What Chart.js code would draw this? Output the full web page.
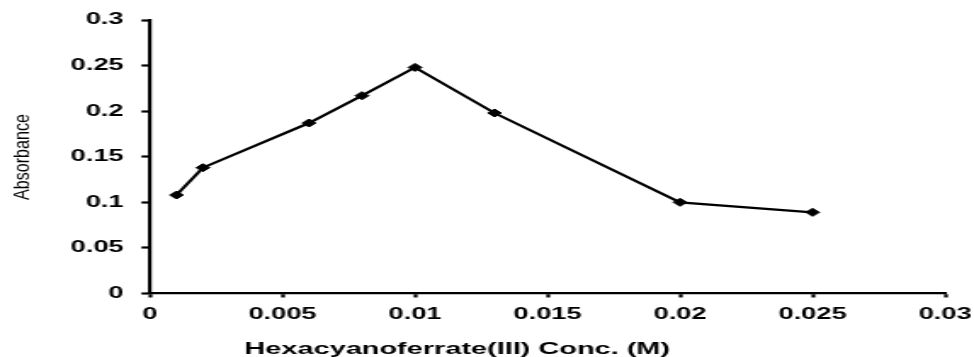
<!DOCTYPE html>
<html>
<head>
<meta charset="utf-8">
<script src="https://cdn.jsdelivr.net/npm/chart.js@4"></script>
<style>
  html, body { margin: 0; padding: 0; background: #fff; overflow: hidden; }
  #c { display: block; width: 974px !important; height: 357px !important; }
</style>
</head>
<body>
<canvas id="c" width="573" height="357"></canvas>
<script>
// ---- data ----
const concentrations = [0.001, 0.002, 0.006, 0.008, 0.010, 0.013, 0.020, 0.025];
const absorbance     = [0.108, 0.138, 0.187, 0.217, 0.248, 0.198, 0.100, 0.089];
const xTickValues = [0, 0.005, 0.01, 0.015, 0.02, 0.025, 0.03];
const xTickLabels = ['0', '0.005', '0.01', '0.015', '0.02', '0.025', '0.03'];
const yTickValues = [0, 0.05, 0.1, 0.15, 0.2, 0.25, 0.3];
const yTickLabels = ['0', '0.05', '0.1', '0.15', '0.2', '0.25', '0.3'];
const xTitle = 'Hexacyanoferrate(III) Conc. (M)';
const yTitle = 'Absorbance';

const points = concentrations.map((x, i) => ({ x: x, y: absorbance[i] }));

const tickFont = { family: "'Liberation Sans', Arial, sans-serif", size: 16, weight: 'bold' };

const titlesPlugin = {
  id: 'titles',
  afterDraw(chart) {
    const ctx = chart.ctx;
    ctx.save();
    ctx.fillStyle = '#000';
    // x-axis title
    ctx.font = "bold 17px 'Liberation Sans', Arial, sans-serif";
    ctx.textAlign = 'center';
    ctx.textBaseline = 'alphabetic';
    ctx.fillText(xTitle, 269, 354);
    // y-axis title (rotated, elongated along its length)
    ctx.font = "13.5px 'Liberation Sans', Arial, sans-serif";
    const w = ctx.measureText(yTitle).width;
    ctx.translate(12.8, 157);
    ctx.rotate(-Math.PI / 2);
    ctx.scale(86 / w, 1);
    ctx.textAlign = 'center';
    ctx.textBaseline = 'middle';
    ctx.fillText(yTitle, 0, 0);
    ctx.restore();
  }
};

new Chart(document.getElementById('c'), {
  type: 'scatter',
  data: {
    datasets: [{
      data: points,
      showLine: true,
      borderColor: '#000',
      borderWidth: 2.2,
      backgroundColor: '#000',
      pointStyle: 'rectRot',
      pointRadius: 4,
      pointBorderWidth: 1,
      pointBorderColor: '#000',
      pointBackgroundColor: '#000',
      tension: 0
    }]
  },
  options: {
    responsive: false,
    animation: false,
    devicePixelRatio: 1,
    layout: { padding: { left: 0, right: 17, top: 20, bottom: 0 } },
    plugins: { legend: { display: false }, tooltip: { enabled: false }, title: { display: false } },
    scales: {
      x: {
        type: 'linear',
        min: 0, max: 0.03,
        afterBuildTicks: s => { s.ticks = xTickValues.map(v => ({ value: v })); },
        afterFit: s => { s.height = 63.5; s.paddingLeft = 0; s.paddingRight = 0; },
        ticks: {
          color: '#000',
          font: tickFont,
          padding: 7,
          maxRotation: 0,
          autoSkip: false,
          callback: (v, i) => xTickLabels[i]
        },
        grid: { drawOnChartArea: false, drawTicks: true, tickLength: 4, tickColor: '#000', tickWidth: 2.2 },
        border: { display: true, color: '#000', width: 2.2 }
      },
      y: {
        type: 'linear',
        min: 0, max: 0.3,
        afterBuildTicks: s => { s.ticks = yTickValues.map(v => ({ value: v })); },
        afterFit: s => { s.width = 88.2; s.paddingTop = 0; s.paddingBottom = 0; },
        ticks: {
          color: '#000',
          font: tickFont,
          padding: 10.5,
          autoSkip: false,
          callback: (v, i) => yTickLabels[i]
        },
        grid: { drawOnChartArea: false, drawTicks: true, tickLength: 5, tickColor: '#000', tickWidth: 2.2 },
        border: { display: true, color: '#000', width: 2.2 }
      }
    }
  },
  plugins: [titlesPlugin]
});
</script>
</body>
</html>
